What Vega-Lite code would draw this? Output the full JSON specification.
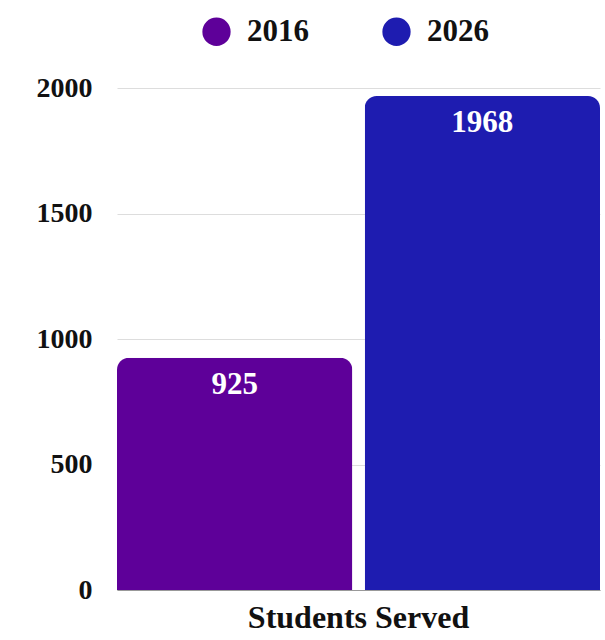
{
  "$schema": "https://vega.github.io/schema/vega-lite/v6.json",
  "width": 483,
  "height": 502,
  "autosize": "none",
  "padding": {"left": 117, "top": 88, "right": 5, "bottom": 50},
  "background": "white",
  "config": {
    "view": {"stroke": null},
    "font": "Liberation Serif"
  },
  "data": {
    "values": [
      {"metric": "Students Served", "year": "2016", "students": 925},
      {"metric": "Students Served", "year": "2026", "students": 1968}
    ]
  },
  "encoding": {
    "x": {
      "field": "metric",
      "type": "nominal",
      "title": null,
      "scale": {"paddingInner": 0, "paddingOuter": 0},
      "axis": {
        "labelAngle": 0,
        "labelFontSize": 32,
        "labelFontWeight": "bold",
        "labelColor": "#111",
        "labelPadding": 12,
        "labelLimit": 0,
        "ticks": false,
        "domainColor": "#999",
        "domainWidth": 1
      }
    },
    "xOffset": {
      "field": "year",
      "type": "nominal",
      "scale": {"paddingInner": 0.05, "paddingOuter": 0}
    },
    "y": {
      "field": "students",
      "type": "quantitative",
      "title": null,
      "scale": {"domain": [0, 2000]},
      "axis": {
        "values": [0, 500, 1000, 1500, 2000],
        "format": "d",
        "labelFontSize": 28,
        "labelFontWeight": "bold",
        "labelColor": "#111",
        "labelPadding": 25,
        "ticks": false,
        "domain": false,
        "gridColor": "#dddddd"
      }
    }
  },
  "layer": [
    {
      "mark": {"type": "bar", "cornerRadiusTopLeft": 12, "cornerRadiusTopRight": 12},
      "encoding": {
        "color": {
          "field": "year",
          "type": "nominal",
          "title": null,
          "scale": {"domain": ["2016", "2026"], "range": ["#5e0099", "#1e1cb0"]},
          "legend": {
            "orient": "none",
            "legendX": 84,
            "legendY": -72,
            "direction": "horizontal",
            "symbolType": "circle",
            "symbolSize": 800,
            "symbolStrokeWidth": 0,
            "labelFontSize": 31,
            "labelFontWeight": "bold",
            "labelColor": "#111",
            "labelOffset": 15,
            "columnPadding": 72
          }
        }
      }
    },
    {
      "mark": {
        "type": "text",
        "baseline": "top",
        "dy": 12,
        "color": "white",
        "fontSize": 31,
        "fontWeight": "bold"
      },
      "encoding": {
        "text": {"field": "students", "type": "quantitative"}
      }
    }
  ]
}
